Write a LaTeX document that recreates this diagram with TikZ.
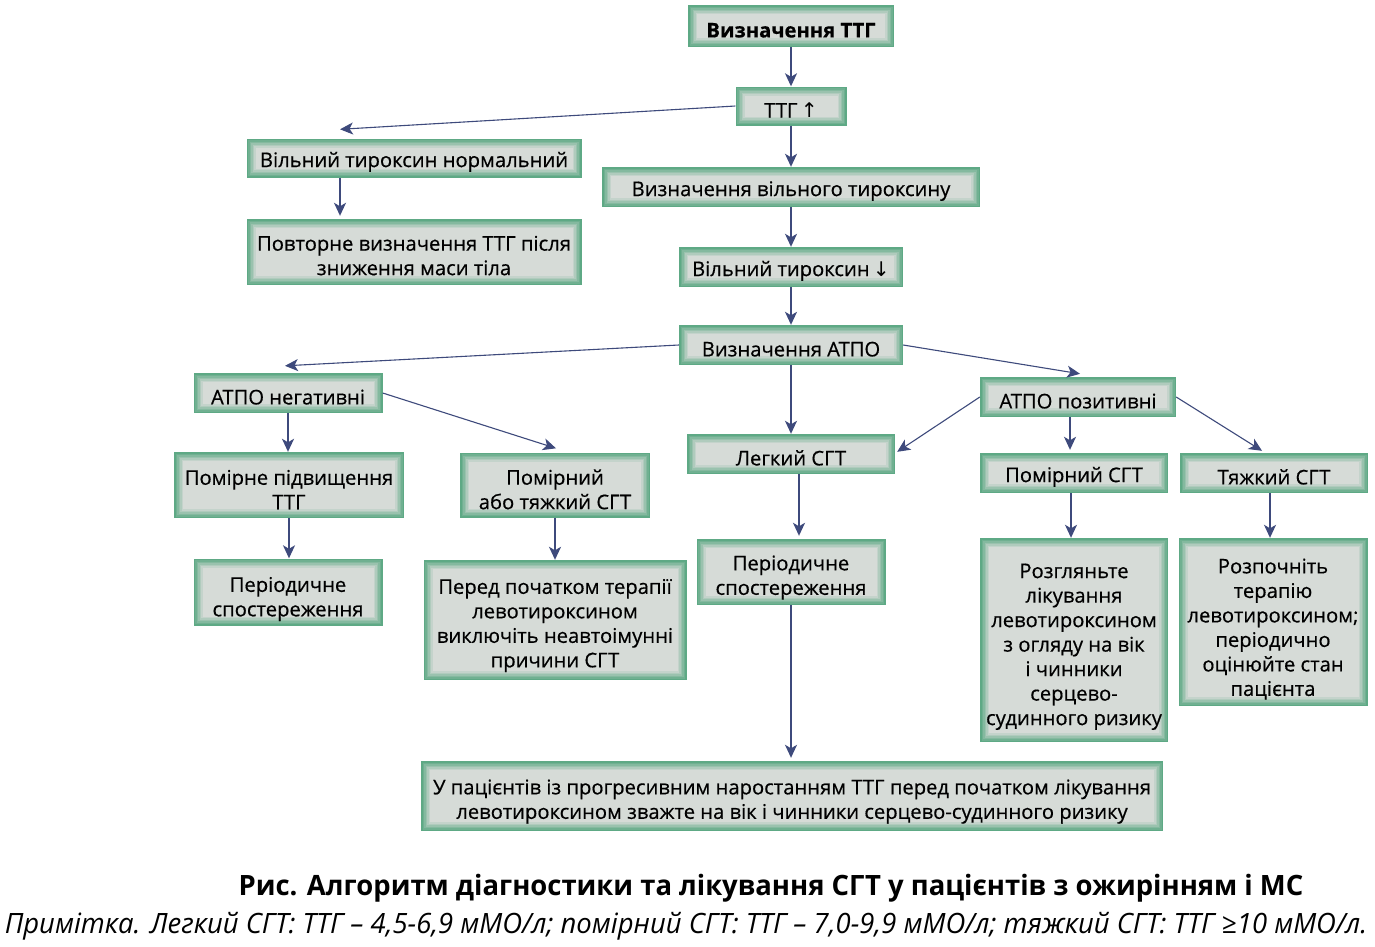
\documentclass[tikz,border=0pt]{standalone}
\usepackage{fontspec}
\setmainfont{Open Sans}[FakeBold=0.5]
\newfontfamily\symfont{DejaVu Sans}
\newfontfamily\capfont[FakeStretch=0.98]{Open Sans}
\usetikzlibrary{arrows.meta}
\definecolor{boxgreen}{HTML}{5EA985}
\definecolor{boxgray}{HTML}{D6DBD7}
\definecolor{arrowblue}{HTML}{3E4A7C}
\newcommand\topst{\rule{0pt}{26pt}}
\tikzset{
  bx/.style={fill=boxgreen, inner sep=0pt, align=center, text=black,
    font=\fontsize{20.2}{24.5}\selectfont,
    execute at begin node={\rule{0pt}{23pt}},
    path picture={
      \foreach \i/\c in {1.5/85,3/68,4.5/50,6/32,7.5/15,9/0}{
        \fill[boxgreen!\c!boxgray] ([shift={(\i pt,-\i pt)}]path picture bounding box.north west) rectangle ([shift={(-\i pt,\i pt)}]path picture bounding box.south east);
      }
    }},
  arr/.style={draw=arrowblue, line width=1.6pt, -{Stealth[length=13pt,width=12pt,inset=3.5pt]}},
  arrt/.style={arr, line width=1.1pt},
}
\begin{document}
\begin{tikzpicture}[x=1pt,y=-1pt]
\useasboundingbox[fill=white] (0,0) rectangle (1375,946);
\node[bx, minimum width=206pt, minimum height=42pt, font=\fontsize{20.2}{24.5}\selectfont\bfseries] (n1) at (791,26) {Визначення ТТГ};
\node[bx, minimum width=111pt, minimum height=39pt] (n2) at (791,106) {ТТГ\,{\symfont ↑}};
\node[bx, minimum width=335pt, minimum height=39pt] (n3) at (414,158) {Вільний тироксин нормальний};
\node[bx, minimum width=335pt, minimum height=66pt] (n4) at (414,252) {\rule{0pt}{22pt}Повторне визначення ТТГ після\\зниження маси тіла};
\node[bx, minimum width=378pt, minimum height=40pt] (n5) at (791,187) {Визначення вільного тироксину};
\node[bx, minimum width=224pt, minimum height=40pt] (n6) at (791,267) {Вільний тироксин\,{\symfont ↓}};
\node[bx, minimum width=224pt, minimum height=40pt] (n7) at (791,345) {Визначення АТПО};
\node[bx, minimum width=189pt, minimum height=40pt] (n8) at (288,393) {АТПО негативні};
\node[bx, minimum width=196pt, minimum height=40pt] (n9) at (1078,397) {АТПО позитивні};
\node[bx, minimum width=230pt, minimum height=66pt] (n10) at (289,485) {\rule{0pt}{24pt}Помірне підвищення\\ТТГ};
\node[bx, minimum width=190pt, minimum height=65pt] (n11) at (555,485) {\rule{0pt}{24pt}Помірний\\або тяжкий СГТ};
\node[bx, minimum width=208pt, minimum height=40pt] (n12) at (791,454) {Легкий СГТ};
\node[bx, minimum width=188pt, minimum height=40pt] (n13) at (1074,473) {Помірний СГТ};
\node[bx, minimum width=188pt, minimum height=40pt] (n14) at (1274,473) {Тяжкий СГТ};
\node[bx, minimum width=189pt, minimum height=67pt] (n15) at (288,592) {\rule{0pt}{29pt}Періодичне\\спостереження};
\node[bx, minimum width=263pt, minimum height=120pt] (n16) at (555,620) {\topst Перед початком терапії\\левотироксином\\виключіть неавтоімунні\\причини СГТ};
\node[bx, minimum width=189pt, minimum height=66pt] (n17) at (791,572) {\topst Періодичне\\спостереження};
\node[bx, minimum width=188pt, minimum height=204pt] (n18) at (1074,640) {\rule{0pt}{28pt}Розгляньте\\лікування\\левотироксином\\з огляду на вік\\і чинники\\серцево-\\судинного ризику};
\node[bx, minimum width=189pt, minimum height=168pt] (n19) at (1273,622) {\rule{0pt}{29pt}Розпочніть\\терапію\\левотироксином;\\періодично\\оцінюйте стан\\пацієнта};
\node[bx, minimum width=742pt, minimum height=70pt] (n20) at (792,796) {\topst У пацієнтів із прогресивним наростанням ТТГ перед початком лікування\\левотироксином зважте на вік і чинники серцево-судинного ризику};

\node[font=\capfont\fontsize{28}{32}\selectfont\bfseries] (cap) at (771,888) {Рис. Алгоритм діагностики та лікування СГТ у пацієнтів з ожирінням і МС};
\node[font=\capfont\fontsize{28}{32}\selectfont\itshape] (note) at (686,926) {Примітка. Легкий СГТ: ТТГ – 4,5-6,9 мМО/л; помірний СГТ: ТТГ – 7,0-9,9 мМО/л; тяжкий СГТ: ТТГ ≥10 мМО/л.};

\draw[arr] (n1) -- (n2);
\draw[arrt] (n2.west) -- ([xshift=-74pt,yshift=9pt]n3.north);
\draw[arr] ([xshift=-74pt]n3.south) -- ([xshift=-74pt,yshift=3pt]n4.north);
\draw[arr] (n2) -- (n5);
\draw[arr] (n5) -- (n6);
\draw[arr] (n6) -- (n7);
\draw[arrt] (n7.west) -- ([xshift=-3pt,yshift=7pt]n8.north);
\draw[arrt] (n7.east) -- ([xshift=2pt,yshift=3pt]n9.north);
\draw[arr] (n7) -- (n12);
\draw[arr] (n8.south) -- (n8.south |- n10.north);
\draw[arrt] (n8.east) -- ([xshift=1pt,yshift=4pt]n11.north);
\draw[arrt] (n9.west) -- ([xshift=2pt,yshift=-18pt]n12.north east);
\draw[arr] ([xshift=-8pt]n9.south) -- ([xshift=-4pt,yshift=3pt]n13.north);
\draw[arrt] (n9.east) -- ([xshift=-12pt,yshift=2pt]n14.north);
\draw[arr] (n10.south) -- (n10.south |- n15.north);
\draw[arr] (n11.south) -- (n11.south |- n16.north);
\draw[arr] ([xshift=8pt]n12.south) -- ([xshift=8pt,yshift=3pt]n17.north);
\draw[arr] ([xshift=-3pt]n13.south) -- ([xshift=-3pt]n13.south |- n18.north);
\draw[arr] ([xshift=-4pt]n14.south) -- ([xshift=-4pt]n14.south |- n19.north);
\draw[arr] (n17.south) -- ([yshift=3pt]n17.south |- n20.north);
\end{tikzpicture}
\end{document}
